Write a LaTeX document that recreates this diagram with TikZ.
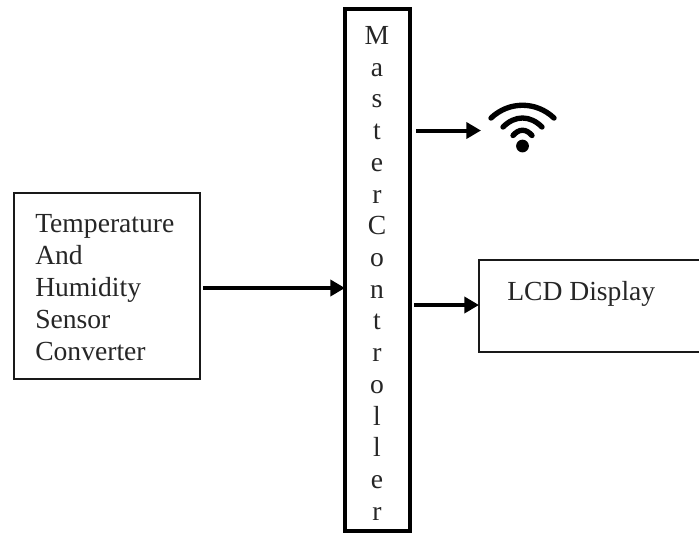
\documentclass[tikz,border=0pt]{standalone}
\usepackage{fontspec}
\setmainfont{Liberation Serif}
\usetikzlibrary{arrows.meta}
\tikzset{
  px/.style={x=0.75pt,y=-0.75pt},
  thinbox/.style={draw=black!90,line width=1.1pt,fill=white,inner sep=0pt,outer sep=0pt,anchor=north west},
  masterbox/.style={draw=black,line width=3pt,fill=white,inner sep=0pt,outer sep=0pt,anchor=north west},
  label/.style={font=\fontsize{20.7pt}{24pt}\selectfont,inner sep=0pt,align=left,text=black!85},
  mastertext/.style={font=\fontsize{20.7pt}{23.8pt}\selectfont,inner sep=0pt,align=center,text=black!85},
  flow/.style={draw=black,line width=3pt,-{Triangle[length=11pt,width=12pt]}},
  wave/.style={draw=black,line width=4pt,line cap=round},
}
\begin{document}
\begin{tikzpicture}[px]
\useasboundingbox (0,0) rectangle (699,533);
\clip (0,0) rectangle (699,533);
\node[thinbox,minimum width=139.5pt,minimum height=139.5pt] (sensor) at (14,193) {};
\node[label,anchor=north west] (sensortext) at (35,214) {Temperature\\And\\Humidity\\Sensor\\Converter};
\node[masterbox,minimum width=48.75pt,minimum height=391.5pt] (master) at (345,9) {};
\node[mastertext,anchor=north] (mastertxt) at (377,26) {M\\a\\s\\t\\e\\r\\C\\o\\n\\t\\r\\o\\l\\l\\e\\r};
\node[thinbox,minimum width=168pt,minimum height=69pt] (lcd) at (479,260) {};
\node[label,anchor=north west] (lcdtext) at (507,281) {LCD Display};
\coordinate (wifiin) at (481,130.5);
\coordinate (mwifi) at (416,130.5);
\coordinate (mlcd) at (414,305);
\coordinate (lcdin) at (lcd.west |- mlcd);
\coordinate (sout) at (203,288);
\coordinate (min) at (master.west |- sout);
\draw[flow] (sout) -- (min);
\draw[flow] (mwifi) -- (wifiin);
\draw[flow] (mlcd) -- (lcdin);
\fill (522.5,146) circle[radius=4.8pt];
\draw[wave] (491,118) .. controls (509,101) and (536,101) .. (554,118);
\draw[wave] (503,127) .. controls (515,115) and (530,115) .. (542,127);
\draw[wave] (513,135.5) .. controls (519,128.5) and (526,128.5) .. (532,135.5);
\end{tikzpicture}
\end{document}
